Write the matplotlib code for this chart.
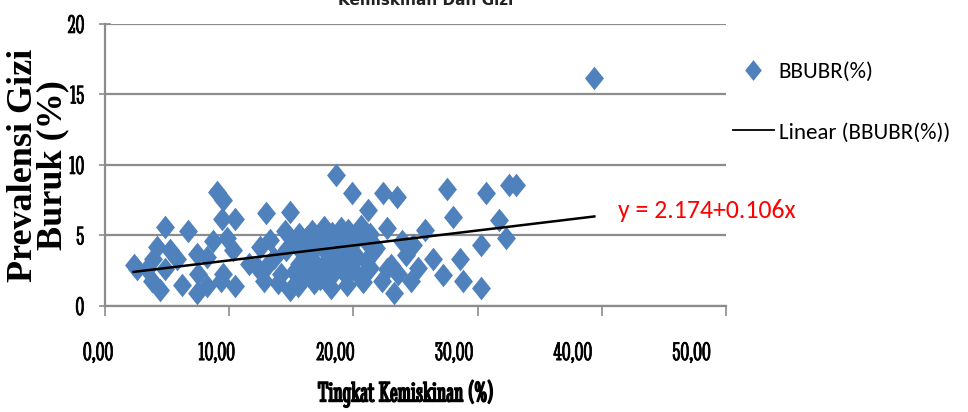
import matplotlib
matplotlib.use('Agg')
import matplotlib.pyplot as plt
import matplotlib.transforms as mtransforms
import matplotlib.patheffects as pe
from matplotlib.path import Path
from matplotlib.lines import Line2D
import numpy as np

# data
kemiskinan = [2.3, 2.6, 3.4, 3.8, 3.9, 4.2, 4.4, 4.8, 4.8, 5.2, 5.8, 6.2, 6.7, 7.4, 7.4, 7.5,
              8.2, 8.2, 8.7, 9.0, 9.3, 9.4, 9.5, 9.5, 9.8, 10.3, 10.5, 10.5,
              11.6, 12.2, 12.5, 12.8, 13.0, 13.0, 13.3, 13.6, 13.9, 14.2, 14.5, 14.6, 14.9, 14.9,
              15.2, 15.6, 16.0, 16.3, 16.7, 17.0, 17.3, 17.6, 18.0, 18.3, 18.6, 19.0, 19.3, 19.6,
              20.0, 20.3, 20.6, 21.0, 21.3, 21.6,
              15.2, 15.6, 16.0, 16.3, 16.7, 17.0, 17.3, 17.6, 18.0, 18.3, 18.6, 19.0, 19.3, 19.6,
              20.0, 20.3, 20.6, 21.0, 21.3, 21.6,
              15.8, 16.5, 17.8, 19.8, 21.8, 15.5, 16.8, 18.2, 19.5, 20.8,
              18.6, 19.9, 21.2, 22.4, 23.5, 22.7, 22.3, 22.7, 23.0, 23.3, 23.6, 23.9, 24.2,
              24.6, 24.8, 25.2, 25.8, 26.4, 27.2, 27.5, 28.0, 28.6, 28.8, 30.3, 30.3, 30.7,
              31.7, 32.3, 32.5, 33.1, 39.4]
gizi_buruk = [2.9, 2.6, 2.6, 1.8, 3.3, 4.2, 1.1, 5.6, 2.6, 4.0, 3.3, 1.5, 5.3, 3.7, 0.9, 2.3,
              3.5, 1.4, 4.6, 8.1, 1.8, 6.2, 7.5, 2.3, 4.8, 4.0, 6.2, 1.4,
              3.0, 2.8, 4.2, 1.8, 6.6, 2.8, 4.7, 3.4, 1.6, 2.3, 5.3, 4.0, 6.7, 1.1,
              4.6, 5.1, 4.2, 4.9, 5.3, 4.4, 5.0, 5.6, 4.7, 5.2, 4.3, 5.5, 4.8, 5.4,
              4.5, 5.0, 5.7, 4.6, 5.1, 4.4,
              2.4, 3.0, 2.1, 2.7, 3.3, 2.5, 1.9, 2.9, 3.4, 2.2, 2.8, 3.6, 2.3, 3.1,
              2.6, 3.5, 2.0, 3.2, 2.7, 3.8,
              3.9, 3.6, 3.8, 4.0, 4.1, 1.4, 1.6, 1.3, 1.5, 1.7,
              9.3, 8.0, 6.8, 8.0, 7.7, 5.5, 1.8, 2.6, 2.9, 0.9, 2.3, 4.6, 3.6,
              1.8, 4.3, 2.7, 5.4, 3.3, 2.2, 8.3, 6.3, 3.3, 1.8, 4.3, 1.3, 8.0,
              6.1, 4.8, 8.6, 8.6, 16.2]
intercept = 2.174
slope = 0.106
x_ticks = [0, 10, 20, 30, 40, 50]
x_labels = ['0,00', '10,00', '20,00', '30,00', '40,00', '50,00']
y_ticks = [0, 5, 10, 15, 20]

blue = '#4F81BD'
grid = '#8C8C8C'
cond_serif = ['Stint Ultra Condensed', 'Instrument Serif', 'Liberation Serif', 'DejaVu Serif']
calibri = ['Carlito', 'PT Sans Narrow', 'DejaVu Sans']

# diamond a bit taller than wide, like the Excel marker
diamond = Path([(0, 1), (0.8, 0), (0, -1), (-0.8, 0), (0, 1)],
               [Path.MOVETO, Path.LINETO, Path.LINETO, Path.LINETO, Path.CLOSEPOLY])

fig = plt.figure(figsize=(9.68, 4.12), dpi=100)
ax = fig.add_axes([0.1085, 0.2573, 0.6415, 0.6845])

ax.plot(kemiskinan, gizi_buruk, linestyle='none', marker=diamond, markersize=17,
        color=blue, markeredgewidth=0, zorder=3)
xl = np.array([min(kemiskinan), max(kemiskinan)])
ax.plot(xl, intercept + slope * xl, color='black', lw=1.8, zorder=4)

thick = [pe.withStroke(linewidth=0.5, foreground='black')]
ax.set_xlim(0, 50)
ax.set_ylim(0, 20)
ax.set_xticks(x_ticks)
ax.set_xticklabels(x_labels, family=cond_serif, fontsize=19, path_effects=thick)
ax.set_yticks(y_ticks)
ax.set_yticklabels([str(v) for v in y_ticks], family=cond_serif, fontsize=19,
                   path_effects=thick)
ax.yaxis.grid(True, color=grid, lw=1.6)
ax.set_axisbelow(True)
for s in ['top', 'right']:
    ax.spines[s].set_visible(False)
ax.spines['left'].set_color(grid)
ax.spines['bottom'].set_color(grid)
ax.spines['left'].set_linewidth(1.6)
ax.spines['bottom'].set_linewidth(1.6)
ax.tick_params(axis='y', direction='inout', length=8, width=1.2, color=grid, pad=11)
ax.tick_params(axis='x', direction='out', length=7, width=1.2, color=grid, pad=19)

# Excel drew the x labels a little left of their ticks
for i, lab in enumerate(ax.get_xticklabels()):
    off = mtransforms.ScaledTranslation(-(7 + 5.5 * i) / 100, 0, fig.dpi_scale_trans)
    lab.set_transform(lab.get_transform() + off)

bold = [pe.withStroke(linewidth=1.0, foreground='black')]
ax.set_xlabel('Tingkat Kemiskinan (%)', family=cond_serif, fontsize=21, path_effects=bold)
ax.xaxis.set_label_coords(0.4847, -0.262)
ax.set_ylabel('Prevalensi Gizi\nBuruk (%)', family=['Liberation Serif', 'DejaVu Serif'],
              fontsize=26, fontweight='bold', linespacing=0.85)
ax.yaxis.set_label_coords(-0.057, 0.5)

ax.text(41.3, 6.8, 'y = 2.174+0.106x', color='#FF0000', family=calibri, fontsize=18.5,
        va='center', ha='left', clip_on=False)

handles = [Line2D([], [], linestyle='none', marker=diamond, markersize=15, color=blue,
                  markeredgewidth=0),
           Line2D([], [], color='black', lw=1.3)]
ax.legend(handles, ['BBUBR(%)', 'Linear (BBUBR(%))'], loc='upper left',
          bbox_to_anchor=(0.996, 0.897), frameon=False, prop={'family': calibri, 'size': 16.5},
          handlelength=1.8, handletextpad=0.2, labelspacing=1.75, borderaxespad=0)

# the chart title is cut off by the top edge in the reference
fig.text(0.44, 1 - 5 / 412, 'Kemiskinan Dan Gizi', fontsize=11, fontweight='bold',
         ha='center', va='baseline', color='#222222')

fig.savefig('out.png', dpi=100)
